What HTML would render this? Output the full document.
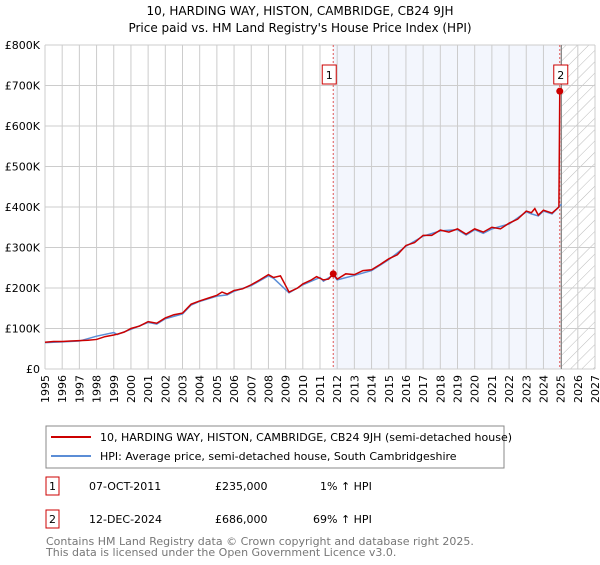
<!DOCTYPE html>
<html><head><meta charset="utf-8"><style>
body{margin:0;background:#fff;font-family:"Liberation Sans","DejaVu Sans",sans-serif;}
</style></head><body>
<svg width="600" height="560" xmlns="http://www.w3.org/2000/svg" style="font-family:'DejaVu Sans','Liberation Sans',sans-serif">
<defs><pattern id="hatch" width="8" height="8" patternUnits="userSpaceOnUse" patternTransform="rotate(45)"><line x1="0" y1="0" x2="0" y2="8" stroke="#bbb" stroke-width="1"/></pattern></defs>
<text x="300" y="15" text-anchor="middle" font-size="12">10, HARDING WAY, HISTON, CAMBRIDGE, CB24 9JH</text>
<text x="300" y="32" text-anchor="middle" font-size="12">Price paid vs. HM Land Registry's House Price Index (HPI)</text>
<g id="plot"></g>
<g id="legend">
<rect x="46" y="426" width="458" height="42" fill="#fff" stroke="#888"/>
<line x1="51" y1="437" x2="91" y2="437" stroke="#cc0000" stroke-width="2"/>
<text x="100" y="441" font-size="11">10, HARDING WAY, HISTON, CAMBRIDGE, CB24 9JH (semi-detached house)</text>
<line x1="51" y1="456" x2="91" y2="456" stroke="#5b8dd6" stroke-width="2"/>
<text x="100" y="460" font-size="11">HPI: Average price, semi-detached house, South Cambridgeshire</text>
</g>
<g font-size="11">
<rect x="46" y="477" width="13" height="18" fill="#fff" stroke="#cc0000"/>
<text x="52.5" y="490" text-anchor="middle">1</text>
<text x="89" y="490">07-OCT-2011</text><text x="215" y="490">£235,000</text><text x="320" y="490">1% ↑ HPI</text>
</g>
<g font-size="11">
<rect x="46" y="510" width="13" height="18" fill="#fff" stroke="#cc0000"/>
<text x="52.5" y="523" text-anchor="middle">2</text>
<text x="89" y="523">12-DEC-2024</text><text x="215" y="523">£686,000</text><text x="313" y="523">69% ↑ HPI</text>
</g>
<text x="46" y="545" font-size="11" fill="#777">Contains HM Land Registry data © Crown copyright and database right 2025.</text>
<text x="46" y="556" font-size="11" fill="#777">This data is licensed under the Open Government Licence v3.0.</text>
</svg>
<script>
const yearTicks=[1995,1996,1997,1998,1999,2000,2001,2002,2003,2004,2005,2006,2007,2008,2009,2010,2011,2012,2013,2014,2015,2016,2017,2018,2019,2020,2021,2022,2023,2024,2025,2026,2027];
const priceTicks=[0,100000,200000,300000,400000,500000,600000,700000,800000];
const priceLabels=["£0","£100K","£200K","£300K","£400K","£500K","£600K","£700K","£800K"];
const propT=[1995,1995.5,1996,1996.5,1997,1997.5,1998,1998.5,1999,1999.2,1999.6,2000,2000.5,2001,2001.5,2002,2002.5,2003,2003.5,2004,2004.5,2005,2005.3,2005.6,2006,2006.5,2007,2007.5,2008,2008.3,2008.7,2009.2,2009.7,2010,2010.5,2010.8,2011.2,2011.5,2011.77,2012,2012.5,2013,2013.5,2014,2014.5,2015,2015.5,2016,2016.5,2017,2017.5,2018,2018.5,2019,2019.5,2020,2020.5,2021,2021.5,2022,2022.5,2023,2023.3,2023.5,2023.7,2024,2024.5,2024.9,2024.95];
const propV=[66,68,68,69,70,71,73,80,84,86,91,100,106,117,113,126,134,138,160,168,175,182,190,185,194,198,208,220,233,226,230,190,200,210,220,228,220,222,235,222,235,233,243,245,258,272,282,305,312,330,330,343,338,346,333,346,338,350,346,360,370,390,386,396,380,392,385,400,686];
const hpiT=[1995,1996,1997,1998,1999,1999.2,2000,2001,2001.5,2002,2003,2003.5,2004,2005,2005.6,2006,2007,2007.5,2008,2008.3,2009.2,2010,2011,2011.2,2011.77,2012,2013,2014,2015,2016,2017,2018,2019,2019.5,2020,2020.5,2021,2022,2023,2023.3,2023.7,2024,2024.5,2025.05];
const hpiV=[65,67,69,81,90,85,98,115,111,124,136,158,167,180,183,192,206,218,230,224,188,208,226,217,232,220,231,243,270,303,328,341,344,331,344,335,346,358,388,383,378,390,383,407];
const sales=[[2011.77,235],[2024.95,686]];
const ns="http://www.w3.org/2000/svg";
const L=45,R=595,T=45,B=369,Y0=1995,Y1=2027;
const xs=t=>L+(t-Y0)/(Y1-Y0)*(R-L);
const ys=v=>B-v/800000*(B-T);
const g=document.getElementById('plot');
function mk(tag,a){const e=document.createElementNS(ns,tag);for(const k in a)e.setAttribute(k,a[k]);g.appendChild(e);return e;}
let e;
e=mk('rect',{x:xs(2011.77),y:T,width:xs(2024.95)-xs(2011.77),height:B-T,fill:'#eef2fc',opacity:0.7});


e=mk('rect',{x:xs(2025.05),y:T,width:R-xs(2025.05),height:B-T,fill:'url(#hatch)'});


yearTicks.forEach(y=>{
 e=mk('line',{x1:xs(y),x2:xs(y),y1:T,y2:B,stroke:'#ccc','stroke-width':1});
 
 
 e=mk('text',{x:0,y:0,'font-size':11,'text-anchor':'end',transform:`translate(${xs(y)+4},${B+6}) rotate(-90)`});
 e.textContent=y;
 
 
});
priceTicks.forEach((p,i)=>{
 e=mk('line',{x1:L,x2:R,y1:ys(p),y2:ys(p),stroke:'#ccc','stroke-width':1});
 
 
 e=mk('text',{x:L-5,y:ys(p)+4,'font-size':11,'text-anchor':'end'});
 e.textContent=priceLabels[i];
 
 
});
e=mk('line',{x1:xs(2025.05),x2:xs(2025.05),y1:T,y2:B,stroke:'#888','stroke-width':1});


sales.forEach((s,i)=>{
 e=mk('line',{x1:xs(s[0]),x2:xs(s[0]),y1:T,y2:B,stroke:'#e05555','stroke-width':1,'stroke-dasharray':'2,2'});
 
 
 const bx=xs(s[0])-(i==0?11:6);
 e=mk('rect',{x:bx,y:T+20,width:14,height:19,fill:'#fff',stroke:'#cc0000'});
 
 
 e=mk('text',{x:bx+7,y:T+34,'font-size':11,'text-anchor':'middle'});
 e.textContent=i+1;
 
 
});
e=mk('polyline',{points:hpiT.map((t,i)=>xs(t)+','+ys(hpiV[i]*1000)).join(' '),fill:'none',stroke:'#5b8dd6','stroke-width':1.5});


e=mk('polyline',{points:propT.map((t,i)=>xs(t)+','+ys(propV[i]*1000)).join(' '),fill:'none',stroke:'#cc0000','stroke-width':1.5});


sales.forEach(s=>{
 e=mk('circle',{cx:xs(s[0]),cy:ys(s[1]*1000),r:3.5,fill:'#cc0000'});
 
 
});
</script>
</body></html>
